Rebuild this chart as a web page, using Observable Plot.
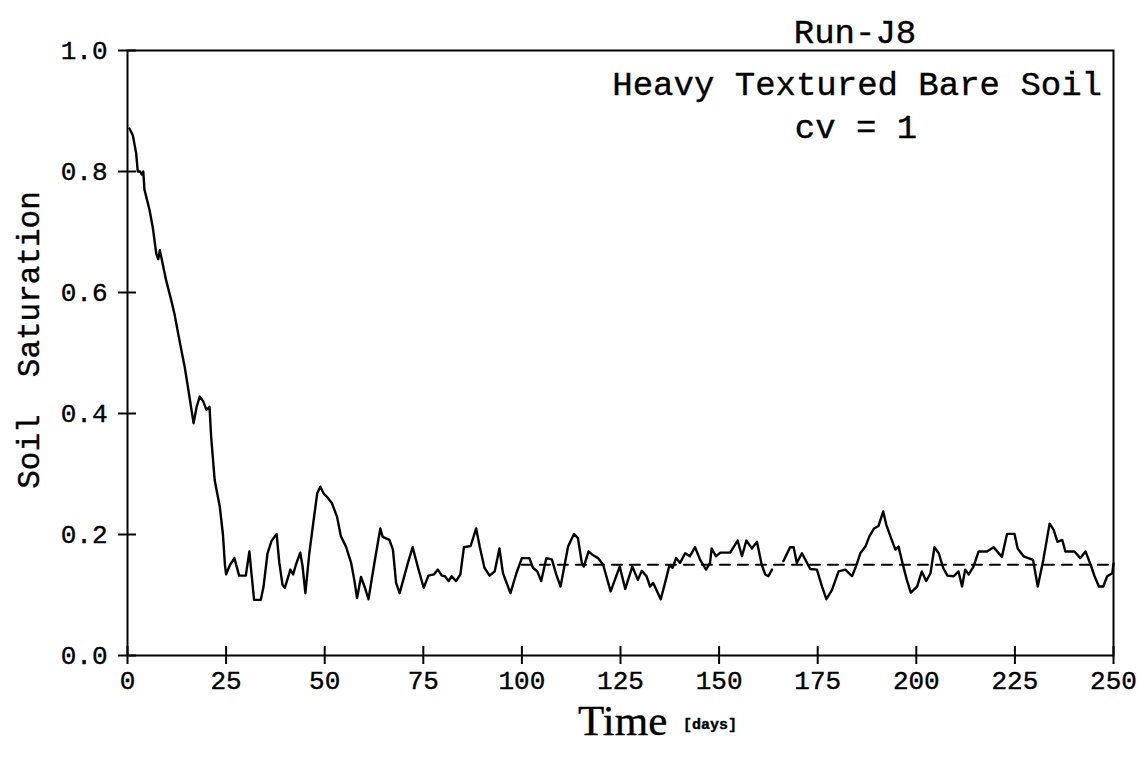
<!DOCTYPE html>
<html><head><meta charset="utf-8">
<script src="https://cdn.jsdelivr.net/npm/d3@7"></script>
<script src="https://cdn.jsdelivr.net/npm/@observablehq/plot@0.6"></script>
<style>
body{margin:0;background:#fff;}
#wrap{position:relative;width:1148px;height:758px;overflow:hidden;}
.t{position:absolute;white-space:pre;color:#000;line-height:1;-webkit-text-stroke:0.4px #000;}
svg text{stroke:#000;stroke-width:0.4px;}
</style></head><body><div id="wrap"></div>
<script>
// Time [days]
const days = [0.5,1.35,2.2,2.6,3.2,3.6,4.0,4.3,5.6,6.4,7.3,7.8,8.2,9.8,11.1,11.9,13.2,14.5,15.7,16.75,17.5,18.3,19.2,20,20.8,21.2,22.1,23.4,24.2,24.7,25.0,26,27.1,28.3,30,30.9,31.5,32.1,33.8,34.5,35.5,36.5,37.8,38.5,39.3,39.9,41.3,42,42.7,43.8,44.4,45.1,46.1,47.2,48.1,48.9,49.7,50.6,51.8,53.1,54.1,55.4,56.7,57.5,58.2,59.2,60.2,61.1,62.6,64.1,64.7,66.4,67.3,68.1,69,71.1,72.3,73.8,75.1,76.3,77.7,78.7,79.7,80.5,81.4,82.2,83.3,84.4,85.3,87,88.4,89.3,90.5,91.8,93.1,94.3,95.2,97.1,98.6,100,101.9,102.8,103.9,104.9,106.2,107.6,108.7,109.8,111.7,113.2,114.2,115.2,115.7,116.9,118,119.3,120.6,122.5,124.8,126.2,128,129.4,130.4,131.6,132.5,133.3,135.2,136.3,137.4,138.2,139.1,140.1,141.4,142.6,143.9,145.2,146.7,147.7,148.1,149.2,150.3,152.8,154.7,155.8,156.9,158.3,159.6,160.8,161.7,162.5,163.4,165,166.3,168,168.9,169.7,171,172.3,173.1,174.8,176.1,177.2,178.6,180.3,182,183.7,184.8,185.8,187.1,188.1,189.3,190.4,191.6,192.4,193.6,194.7,195.5,196.6,197.6,198.6,200.2,201.4,202.5,203.6,204.6,205.7,206.8,207.9,209.5,210.7,211.6,212.4,213.3,214.5,215.8,217.9,219.6,221.7,223,224.9,225.7,227.2,229.6,230.8,232.2,233.8,234.8,235.8,237,237.8,240.1,241.6,242.9,244.2,245.2,246.3,247.4,248.4,249.7,250];
// Soil saturation (null = gap in the record)
const saturation = [0.871,0.86,0.83,0.80,0.80,0.795,0.80,0.77,0.736,0.708,0.664,0.655,0.67,0.62,0.587,0.565,0.52,0.477,0.428,0.384,0.41,0.428,0.42,0.406,0.411,0.362,0.29,0.246,0.20,0.15,0.134,0.15,0.161,0.132,0.132,0.172,0.131,0.092,0.092,0.114,0.169,0.189,0.201,0.153,0.117,0.112,0.142,0.134,0.150,0.17,0.147,0.103,0.169,0.224,0.268,0.279,0.268,0.262,0.252,0.23,0.197,0.18,0.153,0.125,0.095,0.13,0.112,0.093,0.153,0.21,0.196,0.191,0.175,0.120,0.103,0.153,0.179,0.142,0.112,0.132,0.134,0.142,0.132,0.131,0.123,0.131,0.123,0.134,0.179,0.181,0.21,0.18,0.145,0.132,0.139,0.177,0.136,0.103,0.136,0.161,0.161,0.145,0.139,0.123,0.161,0.159,0.134,0.114,0.18,0.201,0.194,0.153,0.147,0.172,0.166,0.161,0.15,0.106,0.147,0.11,0.147,0.125,0.14,0.131,0.114,0.12,0.093,0.12,0.149,0.145,0.161,0.153,0.169,0.164,0.179,0.158,0.142,0.153,0.177,0.164,0.17,0.17,0.19,0.164,0.19,0.177,0.188,0.15,0.134,0.131,0.142,null,0.156,0.179,0.179,0.153,0.169,0.153,0.143,0.142,0.114,0.093,0.108,0.139,0.142,0.131,0.149,0.169,0.18,0.197,0.21,0.214,0.238,0.216,0.194,0.175,0.18,0.15,0.125,0.104,0.114,0.139,0.123,0.136,0.179,0.169,0.145,0.132,0.131,0.139,0.114,0.142,0.134,0.147,0.172,0.172,0.179,0.163,0.201,0.201,0.177,0.164,0.158,0.114,0.158,0.218,0.208,0.188,0.191,0.172,0.172,0.161,0.172,0.15,0.131,0.114,0.114,0.131,0.136,0.152];
// Long-term mean (dashed)
const meanDays = [100, 250];
const meanSaturation = [0.15, 0.15];
const xTicks = [0, 25, 50, 75, 100, 125, 150, 175, 200, 225, 250];
const yTicks = [0, 0.2, 0.4, 0.6, 0.8, 1.0];
const yTickLabels = ["0.0", "0.2", "0.4", "0.6", "0.8", "1.0"];
const titleText = "Run-J8";
const noteLines = ["Heavy Textured Bare Soil", "cv = 1"];
const yLabel = "Soil  Saturation";
const xLabel = "Time";
const xUnit = "[days]";

const series = days.map((d, i) => ({day: d, sat: saturation[i]}));
const meanRows = meanDays.map((d, i) => ({day: d, sat: meanSaturation[i]}));

const W = 1148, H = 758, mL = 127, mR = 35, mT = 50, mB = 103;
const xDomain = [0, 250], yDomain = [0, 1];
const chart = Plot.plot({
  width: W, height: H,
  marginLeft: mL, marginRight: mR, marginTop: mT, marginBottom: mB,
  style: {fontFamily: "'Liberation Mono', monospace", fontSize: "26px", background: "white", color: "black", overflow: "visible"},
  x: {domain: xDomain},
  y: {domain: yDomain},
  marks: [
    Plot.frame({strokeWidth: 2}),
    Plot.axisX({ticks: xTicks, tickSize: 9, tickPadding: 6, label: null, strokeWidth: 2, tickFormat: d => String(d)}),
    Plot.axisX({ticks: xTicks, tickSize: -9, label: null, strokeWidth: 2, tickFormat: () => ""}),
    Plot.axisY({ticks: yTicks, tickSize: 9, tickPadding: 11, label: null, strokeWidth: 2, tickFormat: (d, i) => yTickLabels[i]}),
    Plot.axisY({ticks: yTicks, tickSize: -9, label: null, strokeWidth: 2, tickFormat: () => ""}),
    Plot.line(series, {x: "day", y: "sat", stroke: "black", strokeWidth: 2.4}),
    Plot.line(meanRows, {x: "day", y: "sat", stroke: "black", strokeWidth: 2.2, strokeDasharray: "10,8"})
  ]
});
const wrap = document.getElementById("wrap");
wrap.appendChild(chart);

function addText(txt, css) {
  const d = document.createElement("div");
  d.className = "t";
  d.textContent = txt;
  Object.assign(d.style, css);
  wrap.appendChild(d);
  return d;
}
addText(titleText, {left: "855px", top: "15px", transform: "translateX(-50%)", font: "34px 'Liberation Mono', monospace"});
addText(noteLines[0], {right: "46px", top: "67px", font: "34px 'Liberation Mono', monospace"});
addText(noteLines[1], {left: "856px", top: "110px", transform: "translateX(-50%)", font: "34px 'Liberation Mono', monospace"});
addText(yLabel, {left: "30px", top: "340px", transform: "translate(-50%,-50%) rotate(-90deg)", font: "31px 'Liberation Mono', monospace"});
addText(xLabel, {left: "578px", top: "704px", font: "43px/0.8 'Liberation Serif', serif"});
addText(xUnit, {left: "683px", top: "717px", font: "bold 15px 'Liberation Mono', monospace"});
</script></body></html>
